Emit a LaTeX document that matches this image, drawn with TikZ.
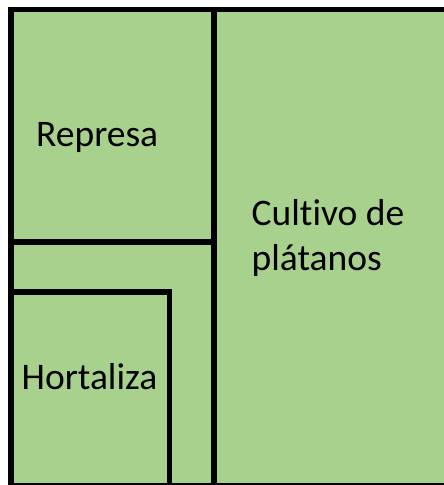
\documentclass[tikz,border=0pt]{standalone}
\usepackage{fontspec}
\setmainfont[Ligatures=NoCommon]{Carlito}
\usepackage{tikz}
\definecolor{campo}{HTML}{A9D18E}

\begin{document}
\begin{tikzpicture}[x=1pt,y=-1pt,
  borde/.style={line width=5.5pt,line join=miter},
  rotulo/.style={anchor=base west,inner sep=0pt,align=left,font=\fontsize{37.5}{45}\selectfont}]
\path[use as bounding box,clip] (0,0) rectangle (444,485);
\fill[campo] (11.2,9.5) rectangle (450,485.3);
\draw[borde] (11.2,9.5) rectangle (450,485.3);
\draw[borde] (214,9.5) -- (214,485.3);
\draw[borde] (11.2,242) -- (214,242);
\draw[borde] (11.2,292) -- (169.5,292) -- (169.5,485.3);
\node[rotulo] (represa) at (36,146.5) {Represa};
\node[rotulo] (cultivo) at (251.5,270) {Cultivo de\\plátanos};
\node[rotulo] (hortaliza) at (21.5,389.3) {Hortaliza};
\end{tikzpicture}
\end{document}
